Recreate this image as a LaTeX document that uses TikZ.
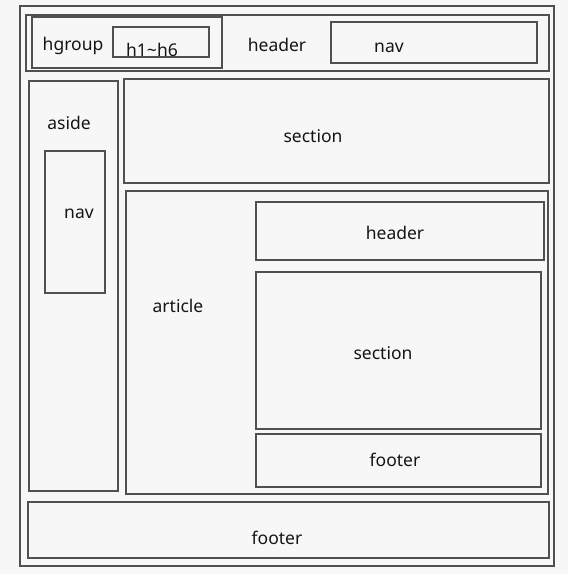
\documentclass[tikz,border=0pt]{standalone}
\usepackage{fontspec}
\setmainfont{Noto Sans}
\usetikzlibrary{fit}
\definecolor{bgc}{HTML}{F7F7F7}
\definecolor{linec}{HTML}{505050}
\definecolor{txtc}{HTML}{151515}
\tikzset{
  box/.style={draw=linec, line width=1.6pt, inner sep=0pt, outer sep=0pt, rectangle},
  lbl/.style={font=\fontsize{17.5}{20}\selectfont, text=txtc, inner sep=0pt}
}
\begin{document}
\begin{tikzpicture}[x=1pt,y=-1pt]
\useasboundingbox (0,0) rectangle (568,581);
\fill[bgc] (0,0) rectangle (568,574);
\fill[white] (0,574) rectangle (568,581);
% boxes
\node[box, fit={(20,6) (554,566)}] (outer) {};
\node[box, fit={(26,15) (549,71)}] (header) {};
\node[box, fit={(32,17) (222,68)}] (hgroup) {};
\node[box, fit={(113,27) (209,57)}] (hsix) {};
\node[box, fit={(331,22) (537,63)}] (topnav) {};
\node[box, fit={(29,81) (118,491)}] (aside) {};
\node[box, fit={(45,151) (105,293)}] (asidenav) {};
\node[box, fit={(124,79) (549,183)}] (section) {};
\node[box, fit={(126,191) (548,494)}] (article) {};
\node[box, fit={(256,202) (544,260)}] (aheader) {};
\node[box, fit={(256,272) (541,429)}] (asection) {};
\node[box, fit={(256,434) (541,487)}] (afooter) {};
\node[box, fit={(28,502) (549,558)}] (footer) {};
% labels
\node[lbl] (thgroup) at (73,46) {hgroup};
\node[lbl] (thsix) at (152,49.5) {h1\textasciitilde h6};
\node[lbl] (theader) at (277,45) {header};
\node[lbl] (tnav) at (389,48) {nav};
\node[lbl] (taside) at (69,123) {aside};
\node[lbl] (tasidenav) at (79,214) {nav};
\node[lbl] (tsection) at (313,136) {section};
\node[lbl] (tarticle) at (178,306) {article};
\node[lbl] (taheader) at (395,233) {header};
\node[lbl] (tasection) at (383,353) {section};
\node[lbl] (tafooter) at (395,460) {footer};
\node[lbl] (tfooter) at (277,538) {footer};
\end{tikzpicture}
\end{document}
